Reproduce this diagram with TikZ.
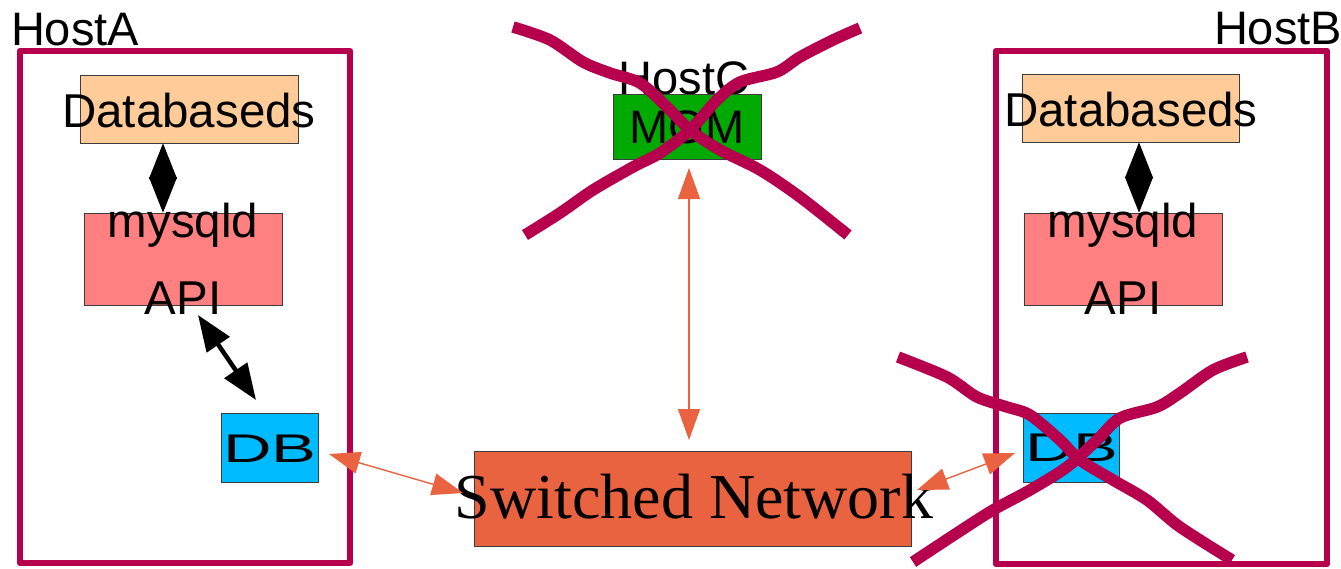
\documentclass[tikz,border=0pt]{standalone}
\usepackage{fontspec}
\usepackage{graphicx}
\setmainfont{Liberation Serif}
\setsansfont{Liberation Sans}
\usetikzlibrary{arrows.meta}

\definecolor{hostred}{RGB}{183,0,77}
\definecolor{dbdfill}{RGB}{255,204,153}
\definecolor{mysfill}{RGB}{255,128,128}
\definecolor{dbfill}{RGB}{0,187,255}
\definecolor{mgmfill}{RGB}{0,170,0}
\definecolor{netfill}{RGB}{233,99,64}
\definecolor{boxedge}{RGB}{60,60,60}

\tikzset{
  hostframe/.style={draw=hostred, line width=6.5pt, line join=round, inner sep=0pt, outer sep=0pt},
  box/.style={draw=boxedge, line width=1pt, inner sep=0pt, outer sep=0pt},
  lbl/.style={font=\sffamily\fontsize{47.5}{56}\selectfont, inner sep=0pt, outer sep=0pt},
  hostlbl/.style={font=\sffamily\fontsize{47}{55}\selectfont, inner sep=0pt, outer sep=0pt},
  dblbl/.style={font=\sffamily\fontsize{40}{48}\selectfont, inner sep=0pt, outer sep=0pt, anchor=base},
  netlbl/.style={font=\rmfamily\fontsize{64}{72}\selectfont, inner sep=0pt, outer sep=0pt, anchor=base},
  blk/.style={draw=black, line width=4.5pt,
    {Triangle[length=36pt,width=27pt]}-{Triangle[length=36pt,width=27pt]}},
  link/.style={draw=netfill, line width=1.4pt,
    {Triangle[length=31pt,width=22pt]}-{Triangle[length=31pt,width=22pt]}},
  cross/.style={draw=hostred, line width=11.5pt},
}

\begin{document}
\begin{tikzpicture}[x=1pt,y=-1pt]
\useasboundingbox (0,0) rectangle (1341,568);

% host frames
\node[hostframe, minimum width=330pt, minimum height=512pt] (hostA) at (185,307) {};
\node[hostframe, minimum width=331pt, minimum height=513pt] (hostB) at (1161.5,307.5) {};
\node[hostlbl, anchor=base west] (lblA) at (11,45) {HostA};
\node[hostlbl, anchor=base east] (lblB) at (1342,44) {HostB};

% HostA components
\node[box, fill=dbdfill, minimum width=218pt, minimum height=68pt] (dbdA) at (189,109) {};
\node[box, fill=mysfill, minimum width=198pt, minimum height=92pt] (mysA) at (183,259) {};
\node[box, fill=dbfill, minimum width=97pt, minimum height=69pt] (dbA) at (269.5,447.5) {};
\node[lbl, anchor=base] (tdbdA) at (189,127) {Databaseds};
\node[lbl, anchor=base] (tmysA) at (183,237) {mysqld};
\node[lbl, anchor=base] (tapiA) at (183,314) {API};
\node[dblbl] (tdbA) at (270,462) {\scalebox{1.68}[1]{DB}};

% HostB components
\node[box, fill=dbdfill, minimum width=217pt, minimum height=68pt] (dbdB) at (1130.5,108) {};
\node[box, fill=mysfill, minimum width=198pt, minimum height=92pt] (mysB) at (1123,259) {};
\node[box, fill=dbfill, minimum width=96pt, minimum height=69pt] (dbB) at (1071,447.5) {};
\node[lbl, anchor=base] (tdbdB) at (1131,126) {Databaseds};
\node[lbl, anchor=base] (tmysB) at (1123,237) {mysqld};
\node[lbl, anchor=base] (tapiB) at (1123,314) {API};
\node[dblbl] (tdbB) at (1072,461) {\scalebox{1.68}[1]{DB}};

% HostC management node
\node[hostlbl, anchor=base] (lblC) at (684,94) {HostC};
\node[box, fill=mgmfill, minimum width=148pt, minimum height=65pt] (mgm) at (687,126.5) {};
\node[lbl, font=\sffamily\fontsize{47}{55}\selectfont, anchor=base] (tmgm) at (687,143) {MGM};

% switched network
\node[box, fill=netfill, minimum width=437pt, minimum height=95pt] (net) at (692.5,498.5) {};
\node[netlbl] (tnet) at (694,518) {Switched Network};

% local links
\draw[blk] ([xshift=-26pt]dbdA.south) -- ([xshift=-20pt]mysA.north);
\draw[blk] ([xshift=8.5pt]dbdB.south) -- ([xshift=16pt]mysB.north);
\draw[blk] ([xshift=15pt,yshift=-10pt]mysA.south) -- ([xshift=-13.5pt,yshift=13pt]dbA.north);

% network links
\draw[link] ([xshift=11pt,yshift=-6.5pt]dbA.east) -- ([xshift=-11pt,yshift=5.5pt]net.west);
\draw[link] ([xshift=2pt,yshift=-9pt]mgm.south) -- ([xshift=-3.5pt,yshift=11pt]net.north);
\draw[link] ([xshift=6pt,yshift=8.5pt]net.east) -- ([xshift=-8pt,yshift=-5.5pt]dbB.west);

% failed hosts crossed out
\draw[cross] plot[smooth] coordinates {(513,27) (550,40) (583,62) (610,73) (640,83) (667,107) (690,130) (720,150) (760,170) (800,197) (848,235)};
\draw[cross] plot[smooth] coordinates {(525,235) (560,213) (593,190) (633,167) (660,153) (690,130) (717,100) (740,82) (777,72) (800,57) (833,40) (860,28)};
\draw[cross] plot[smooth] coordinates {(898,357) (947,377) (977,397) (1007,407) (1030,415) (1060,440) (1080,460) (1113,480) (1147,500) (1180,527) (1232,560)};
\draw[cross] plot[smooth] coordinates {(913,562) (957,533) (993,510) (1030,490) (1067,467) (1097,440) (1120,418) (1157,407) (1180,393) (1213,370) (1247,357)};
\end{tikzpicture}
\end{document}
